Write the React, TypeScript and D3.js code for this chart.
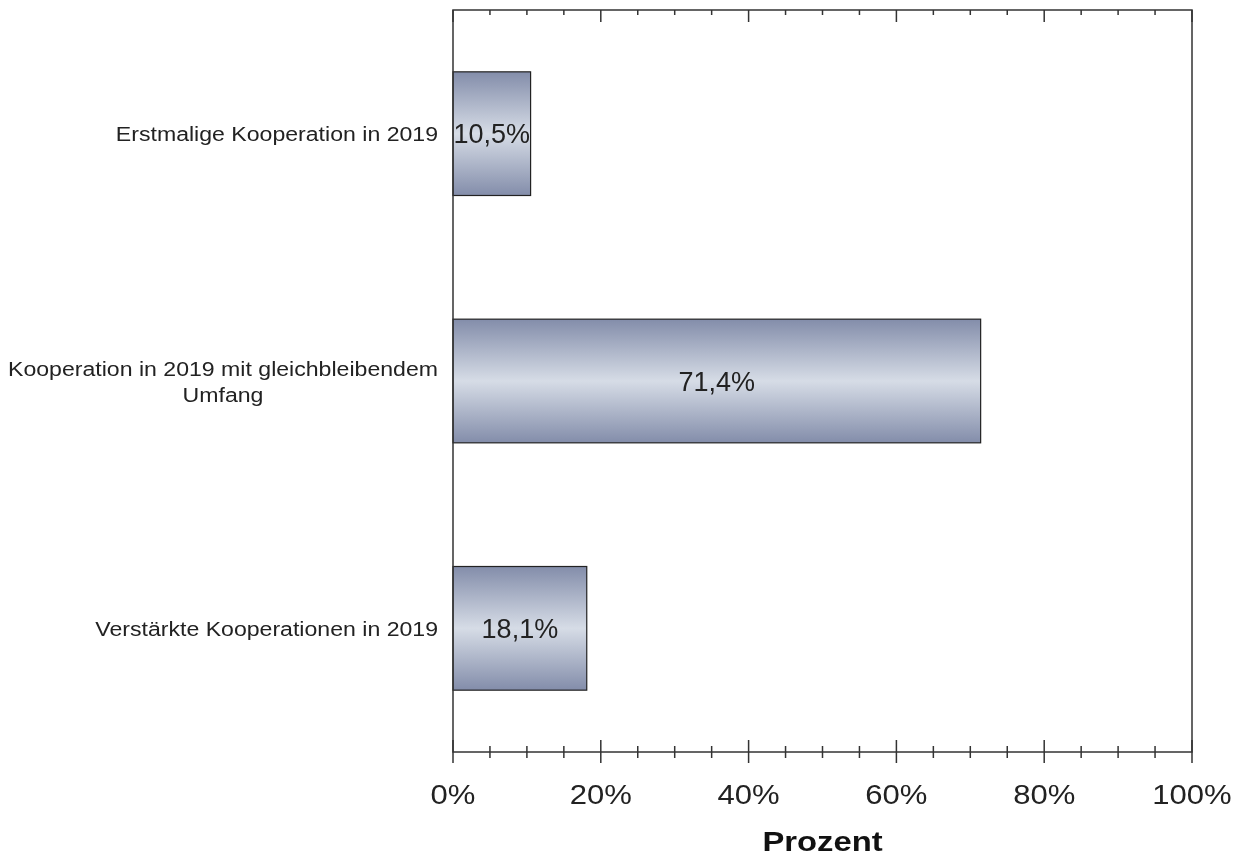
import React, { useEffect, useRef } from 'react';
import * as d3 from 'd3';

const categories = [
  ['Erstmalige Kooperation in 2019'],
  ['Kooperation in 2019 mit gleichbleibendem', 'Umfang'],
  ['Verstärkte Kooperationen in 2019'],
];
const values = [10.5, 71.4, 18.1];
const valueLabels = ['10,5%', '71,4%', '18,1%'];
const majorTicks = [0, 20, 40, 60, 80, 100];
const tickLabels = ['0%', '20%', '40%', '60%', '80%', '100%'];
const axisTitle = 'Prozent';

const W = 1242;
const H = 859;

const App: React.FC = () => {
  const svgRef = useRef<SVGSVGElement>(null);

  useEffect(() => {
    if (!svgRef.current) return;
    const svg = d3.select(svgRef.current);
    svg.selectAll('*').remove();

    const margin = { top: 10, right: 50, bottom: 107, left: 453 };
    const innerWidth = W - margin.left - margin.right;
    const innerHeight = H - margin.top - margin.bottom;
    const font = "'Liberation Sans', Arial, sans-serif";

    const defs = svg.append('defs');
    const grad = defs.append('linearGradient')
      .attr('id', 'barGrad')
      .attr('x1', 0).attr('y1', 0).attr('x2', 0).attr('y2', 1);
    grad.append('stop').attr('offset', '0%').attr('stop-color', '#838daa');
    grad.append('stop').attr('offset', '50%').attr('stop-color', '#d6dce6');
    grad.append('stop').attr('offset', '100%').attr('stop-color', '#838daa');

    const g = svg.append('g')
      .attr('transform', `translate(${margin.left},${margin.top})`);

    const x = d3.scaleLinear().domain([0, 100]).range([0, innerWidth]);
    const y = d3.scaleBand<number>()
      .domain(values.map((_, i) => i))
      .range([0, innerHeight])
      .paddingInner(0.5)
      .paddingOuter(0.25);

    // bars
    g.selectAll('.bar')
      .data(values)
      .enter().append('rect')
      .attr('class', 'bar')
      .attr('x', x(0))
      .attr('y', (_, i) => y(i)!)
      .attr('width', d => x(d) - x(0))
      .attr('height', y.bandwidth())
      .attr('fill', 'url(#barGrad)')
      .attr('stroke', '#222')
      .attr('stroke-width', 1.2);

    // value labels
    g.selectAll('.val')
      .data(values)
      .enter().append('text')
      .attr('class', 'val')
      .attr('x', d => (x(0) + x(d)) / 2)
      .attr('y', (_, i) => y(i)! + y.bandwidth() / 2)
      .attr('dy', '0.36em')
      .attr('text-anchor', 'middle')
      .style('font-family', font)
      .style('font-size', '27px')
      .style('fill', '#222')
      .text((_, i) => valueLabels[i]);

    // frame
    g.append('rect')
      .attr('x', 0).attr('y', 0)
      .attr('width', innerWidth).attr('height', innerHeight)
      .attr('fill', 'none')
      .attr('stroke', '#333')
      .attr('stroke-width', 1.5);

    const minorTicks = d3.range(0, 101, 5).filter(v => v % 20 !== 0);

    // bottom ticks (cross the axis)
    g.append('g')
      .selectAll('line')
      .data(majorTicks)
      .enter().append('line')
      .attr('x1', d => x(d)).attr('x2', d => x(d))
      .attr('y1', innerHeight - 12).attr('y2', innerHeight + 11)
      .attr('stroke', '#333').attr('stroke-width', 1.5);
    g.append('g')
      .selectAll('line')
      .data(minorTicks)
      .enter().append('line')
      .attr('x1', d => x(d)).attr('x2', d => x(d))
      .attr('y1', innerHeight - 6).attr('y2', innerHeight + 6)
      .attr('stroke', '#333').attr('stroke-width', 1.5);

    // top ticks (inward)
    g.append('g')
      .selectAll('line')
      .data(majorTicks)
      .enter().append('line')
      .attr('x1', d => x(d)).attr('x2', d => x(d))
      .attr('y1', 0).attr('y2', 12)
      .attr('stroke', '#333').attr('stroke-width', 1.5);
    g.append('g')
      .selectAll('line')
      .data(minorTicks)
      .enter().append('line')
      .attr('x1', d => x(d)).attr('x2', d => x(d))
      .attr('y1', 0).attr('y2', 5)
      .attr('stroke', '#333').attr('stroke-width', 1.5);

    // tick labels
    g.selectAll('.tl')
      .data(majorTicks)
      .enter().append('text')
      .attr('class', 'tl')
      .attr('transform', d => `translate(${x(d)},${innerHeight + 52}) scale(1.15,1)`)
      .attr('text-anchor', 'middle')
      .style('font-family', font)
      .style('font-size', '27px')
      .style('fill', '#222')
      .text((_, i) => tickLabels[i]);

    // axis title
    g.append('text')
      .attr('transform', `translate(${innerWidth / 2},${innerHeight + 99}) scale(1.17,1)`)
      .attr('text-anchor', 'middle')
      .style('font-family', font)
      .style('font-size', '28px')
      .style('font-weight', 'bold')
      .style('fill', '#111')
      .text(axisTitle);

    // category labels
    categories.forEach((lines, i) => {
      const cy = y(i)! + y.bandwidth() / 2;
      const lh = 26;
      const t = g.append('text')
        .attr('transform', `translate(-15,${cy}) scale(1.1,1)`)
        .attr('text-anchor', 'end')
        .style('font-family', font)
        .style('font-size', '21px')
        .style('fill', '#222');
      if (lines.length === 1) {
        t.append('tspan').attr('x', 0).attr('dy', '0.36em').text(lines[0]);
      } else {
        t.attr('text-anchor', 'middle');
        const temp = t.append('tspan').attr('x', 0).text(lines[0]);
        const w = (temp.node() as SVGTSpanElement).getComputedTextLength();
        temp.remove();
        lines.forEach((ln, j) => {
          t.append('tspan')
            .attr('x', -w / 2)
            .attr('y', (j - (lines.length - 1) / 2) * lh)
            .attr('dy', '0.36em')
            .text(ln);
        });
      }
    });
  }, []);

  return (
    <div>
      <svg
        ref={svgRef}
        width={W}
        height={H}
        style={{ position: 'fixed', top: 0, left: 0, display: 'block', overflow: 'visible' }}
      />
    </div>
  );
};

export default App;
